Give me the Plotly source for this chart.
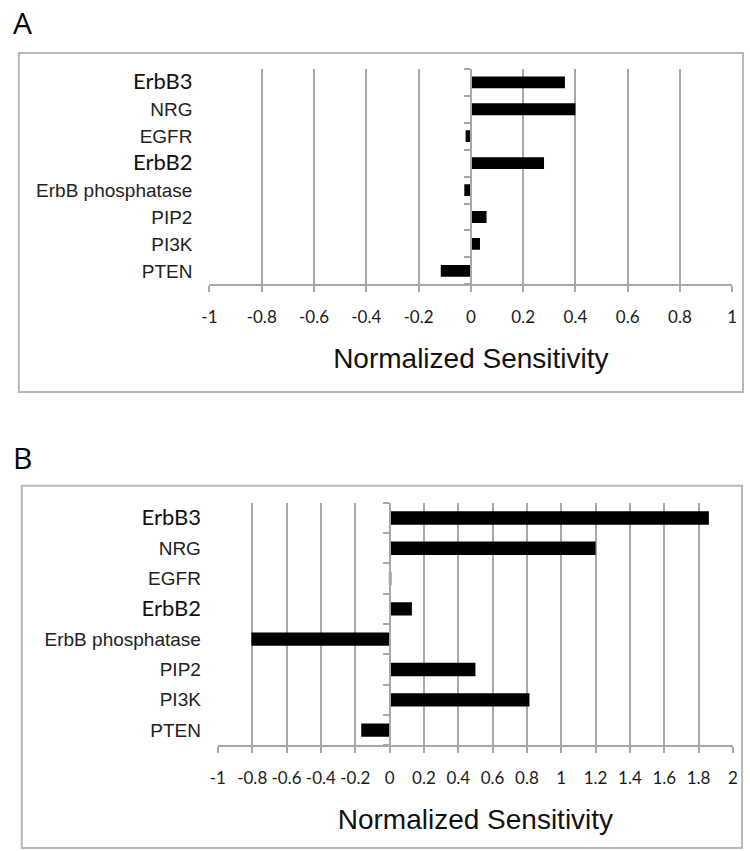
import plotly.graph_objects as go

# ---------------- data ----------------
CATEGORIES = ["ErbB3", "NRG", "EGFR", "ErbB2", "ErbB phosphatase", "PIP2", "PI3K", "PTEN"]
SENS_A = [0.36, 0.40, -0.02, 0.28, -0.025, 0.06, 0.035, -0.115]
SENS_B = [1.86, 1.20, 0.01, 0.13, -0.805, 0.50, 0.815, -0.165]

TICKS_A = [-1, -0.8, -0.6, -0.4, -0.2, 0, 0.2, 0.4, 0.6, 0.8, 1]
TICKLABELS_A = ["-1", "-0.8", "-0.6", "-0.4", "-0.2", "0", "0.2", "0.4", "0.6", "0.8", "1"]
TICKS_B = [-1, -0.8, -0.6, -0.4, -0.2, 0, 0.2, 0.4, 0.6, 0.8, 1, 1.2, 1.4, 1.6, 1.8, 2]
TICKLABELS_B = ["-1", "-0.8", "-0.6", "-0.4", "-0.2", "0", "0.2", "0.4", "0.6", "0.8",
                "1", "1.2", "1.4", "1.6", "1.8", "2"]
AXIS_TITLE = "Normalized Sensitivity"
PANEL_LABELS = ["A", "B"]
ALT_FONT_LABELS = {"ErbB3", "ErbB2"}

# ---------------- layout helpers ----------------
W, H = 750, 851
GRID = "#a8a8a8"
FRAME = "#b8b8b8"


def px_x(p):
    return p / W


def px_y(p):
    return 1 - p / H


def styled(name):
    if name in ALT_FONT_LABELS:
        return f'<span style="font-family:Lato;font-size:22px;color:#111">{name}</span>'
    return name


panels = [
    dict(vals=SENS_A, ticks=TICKS_A, labels=TICKLABELS_A,
         xdom=(205, 737), ydom=(67, 283), frame=(11, 51, 748, 391), letter_y=21),
    dict(vals=SENS_B, ticks=TICKS_B, labels=TICKLABELS_B,
         xdom=(213.6, 737.7), ydom=(502, 745), frame=(14, 485, 747, 848), letter_y=457),
]

fig = go.Figure()
layout = dict(width=W, height=H, margin=dict(l=0, r=0, t=0, b=0),
              paper_bgcolor="white", plot_bgcolor="white",
              showlegend=False, bargap=0.56, shapes=[], annotations=[])

n = len(CATEGORIES)
for i, p in enumerate(panels):
    xa = "x" if i == 0 else f"x{i + 1}"
    ya = "y" if i == 0 else f"y{i + 1}"
    yfree = f"y{i + 3}"
    xkey = "xaxis" if i == 0 else f"xaxis{i + 1}"
    ykey = "yaxis" if i == 0 else f"yaxis{i + 1}"
    yfkey = f"yaxis{i + 3}"

    fig.add_trace(go.Bar(x=p["vals"], y=CATEGORIES, orientation="h",
                         marker=dict(color="black", line=dict(width=0)),
                         xaxis=xa, yaxis=ya, hoverinfo="x+y"))
    # empty trace so the free axis owns a subplot
    fig.add_trace(go.Scatter(x=[], y=[], xaxis=xa, yaxis=yfree,
                             showlegend=False, hoverinfo="skip"))

    xmin, xmax = p["ticks"][0], p["ticks"][-1]
    xd = (px_x(p["xdom"][0]), px_x(p["xdom"][1]))
    yd = (px_y(p["ydom"][1]), px_y(p["ydom"][0]))

    layout[xkey] = dict(domain=list(xd), anchor=ya, range=[xmin, xmax],
                        tickmode="array", tickvals=p["ticks"], ticktext=p["labels"],
                        tickangle=0, showgrid=True, gridcolor=GRID, gridwidth=1.5,
                        zeroline=False, showline=True, linecolor=GRID, linewidth=1.5,
                        ticks="outside", ticklen=6, tickwidth=1.5, tickcolor=GRID,
                        ticklabelstandoff=11,
                        tickfont=dict(family="Lato", size=17, color="#1a1a1a"),
                        title=dict(text=AXIS_TITLE, standoff=22,
                                   font=dict(family="Liberation Sans", size=28, color="#111")))
    layout[ykey] = dict(domain=list(yd), anchor=xa, type="category",
                        range=[n - 0.5, -0.5], tickmode="array",
                        tickvals=CATEGORIES, ticktext=[styled(c) for c in CATEGORIES],
                        showgrid=False, zeroline=False, showline=False, ticks="",
                        ticklabelstandoff=16,
                        tickfont=dict(family="Liberation Sans", size=19, color="#222"))
    zero_pos = xd[0] + (0 - xmin) / (xmax - xmin) * (xd[1] - xd[0])
    layout[yfkey] = dict(domain=list(yd), overlaying=ya, anchor="free", position=zero_pos,
                         side="left", range=[n - 0.5, -0.5], tickmode="array",
                         tickvals=[k - 0.5 for k in range(n + 1)],
                         showticklabels=False, showgrid=False, zeroline=False,
                         showline=True, linecolor=GRID, linewidth=1.5,
                         ticks="outside", ticklen=6, tickwidth=1.5, tickcolor=GRID)

    fx0, fy0, fx1, fy1 = p["frame"]
    layout["shapes"].append(dict(type="rect", xref="paper", yref="paper",
                                 x0=px_x(fx0), x1=px_x(fx1), y0=px_y(fy1), y1=px_y(fy0),
                                 line=dict(color=FRAME, width=2), layer="below"))
    layout["annotations"].append(dict(text=PANEL_LABELS[i], xref="paper", yref="paper",
                                      x=px_x(3), y=px_y(p["letter_y"]), xanchor="left",
                                      yanchor="middle", showarrow=False,
                                      font=dict(family="Open Sans", size=30, color="black")))

fig.update_layout(**layout)
fig.write_html("out.html",
               config={"displayModeBar": False},
               post_script="document.body.style.margin='0px';"
                           "document.body.style.overflow='hidden';")
